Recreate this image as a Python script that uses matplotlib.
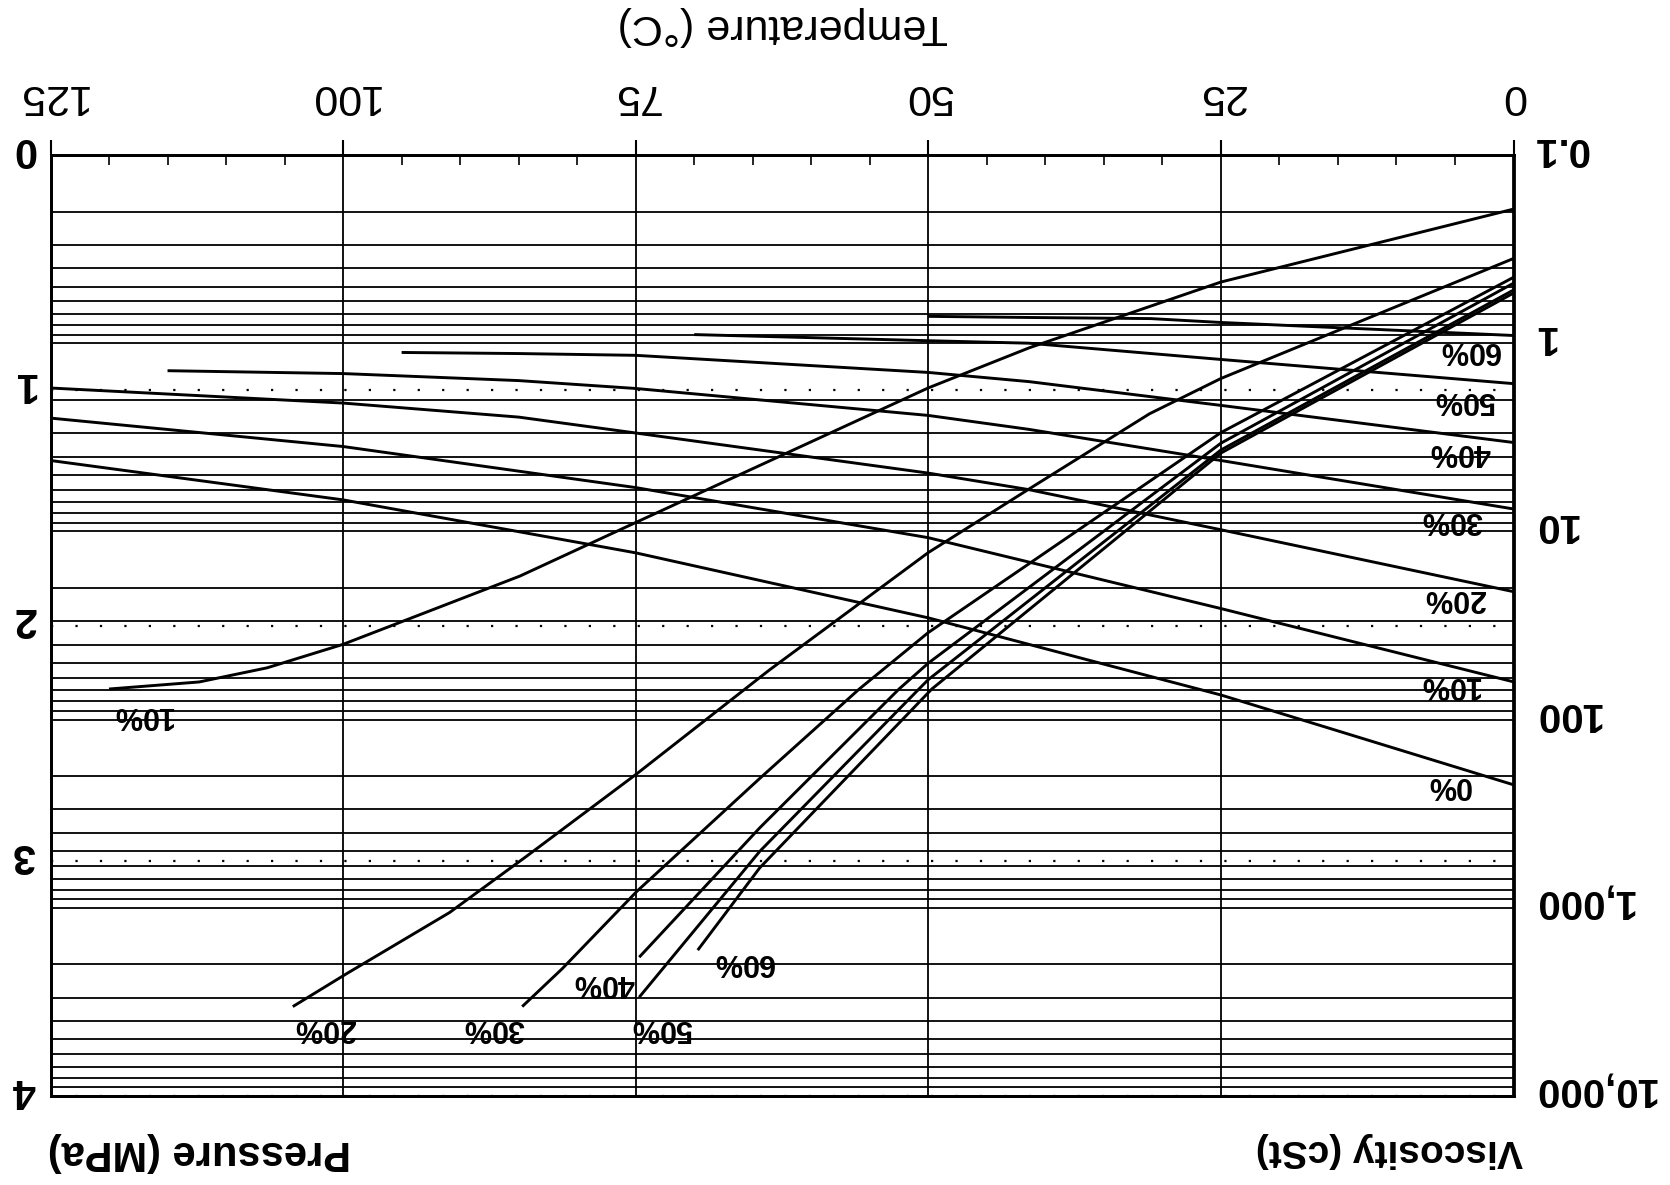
import numpy as np
import matplotlib.pyplot as plt
from matplotlib.ticker import FixedLocator
from matplotlib.transforms import ScaledTranslation

plt.rcParams['font.family'] = ['Liberation Sans', 'DejaVu Sans']
plt.rcParams['ytick.alignment'] = 'center'

# Viscosity curves (cSt) vs temperature, one per concentration
visc_T = {
    "0%": [0, 25, 50, 75, 100, 125],
    "10%": [0, 25, 50, 75, 100, 125],
    "20%": [0, 25, 41.4, 50, 75, 85, 100, 125],
    "30%": [0, 25, 41.4, 50, 75, 85, 100, 115],
    "40%": [0, 25, 41.4, 50, 75, 85, 95],
    "50%": [0, 25, 41.4, 50, 70],
    "60%": [0, 25, 31, 41.4, 50],
}
visc_v = {
    "0%": [222, 74, 28.8, 13.0, 6.8, 4.2],
    "10%": [63, 25.7, 10.8, 5.85, 3.54, 2.5],
    "20%": [20.9, 9.8, 6.0, 4.9, 3.0, 2.47, 2.08, 1.73],
    "30%": [7.6, 4.2, 2.87, 2.42, 1.74, 1.58, 1.45, 1.40],
    "40%": [3.37, 2.14, 1.6, 1.43, 1.16, 1.135, 1.12],
    "50%": [1.64, 1.22, 1.0, 0.97, 0.90],
    "60%": [0.91, 0.776, 0.74, 0.73, 0.72],
}

# Pressure curves (MPa) vs temperature
pres_T = {
    "10%": [0, 25, 41.4, 50, 74.9, 84.9, 100, 106.5, 112.3, 120],
    "20%": [0, 25, 31.1, 41.4, 50, 63.6, 74.9, 84.3, 90.9, 99.7, 104.3],
    "30%": [0, 25, 50, 55.9, 64.4, 74.9, 81.3, 84.7],
    "40%": [0, 25, 50, 52.5, 64.4, 74.7],
    "50%": [0, 25, 50, 50.8, 64.4, 74.7],
    "60%": [0, 25, 49.7, 64.4, 69.7],
}
pres_P = {
    "10%": [0.23, 0.54, 0.82, 0.99, 1.56, 1.79, 2.08, 2.18, 2.24, 2.27],
    "20%": [0.44, 0.95, 1.10, 1.42, 1.69, 2.19, 2.63, 2.98, 3.22, 3.48, 3.62],
    "30%": [0.52, 1.18, 2.03, 2.27, 2.65, 3.13, 3.46, 3.62],
    "40%": [0.545, 1.225, 2.16, 2.27, 2.86, 3.41],
    "50%": [0.574, 1.254, 2.23, 2.27, 2.96, 3.58],
    "60%": [0.587, 1.267, 2.27, 3.03, 3.38],
}

# where the curve labels sit (T, value)
visc_label_at = {
    "60%": (3.8, 1.09), "50%": (4.2, 2.0), "40%": (4.6, 3.78), "30%": (5.3, 8.7),
    "20%": (5.0, 22.6), "10%": (5.5, 65.5), "0%": (5.5, 222),
}
pres_label_at = {
    "10%": (117.1, 2.38), "20%": (101.6, 3.71), "30%": (87.1, 3.71),
    "40%": (77.7, 3.52), "50%": (72.8, 3.71), "60%": (65.8, 3.43),
}

temp_ticks = [0, 25, 50, 75, 100, 125]
visc_ticks = [0.1, 1, 10, 100, 1000, 10000]
visc_labels = ["0.1", "1", "10", "100", "1,000", "10,000"]
pres_ticks = [0, 1, 2, 3, 4]

fig = plt.figure(figsize=(16.7, 11.85), dpi=100)
ax = fig.add_axes([50.5 / 1670, 89 / 1185, 1463 / 1670, 941 / 1185])
ax2 = ax.twinx()

# chart is printed upside down: flip both axes, rotate all text
ax.set_xlim(125, 0)
ax.set_yscale('log')
ax.set_ylim(10000, 0.1)
ax2.set_ylim(4, 0)

ax.xaxis.tick_top()
ax.set_xticks(temp_ticks)
ax.set_xticklabels([str(t) for t in temp_ticks])
ax.xaxis.set_minor_locator(FixedLocator(np.arange(0, 126, 5)))
ax.tick_params(axis='x', which='major', direction='out', length=11, width=1.5,
               pad=17, labelsize=31, labelrotation=180)
ax.tick_params(axis='x', which='minor', direction='in', length=7, width=1.2)

ax.yaxis.tick_right()
ax.set_yticks(visc_ticks)
ax.set_yticklabels(visc_labels)
minors = [m * 10.0 ** e for e in range(-1, 4) for m in range(2, 10)]
ax.yaxis.set_minor_locator(FixedLocator(minors))
ax.tick_params(axis='y', which='both', length=0, pad=14, labelsize=29,
               labelrotation=180)

ax2.yaxis.tick_left()
ax2.set_yticks(pres_ticks)
ax2.set_yticklabels([str(p) for p in pres_ticks])
ax2.tick_params(axis='y', length=0, pad=11, labelsize=30, labelrotation=180)

# upside-down labels sit a little high of their ticks
lift = ScaledTranslation(0, 6 / 100, fig.dpi_scale_trans)
for lab in ax.get_yticklabels() + ax2.get_yticklabels():
    lab.set_fontweight('bold')
    lab.set_transform(lab.get_transform() + lift)

ax.grid(axis='y', which='both', color='black', lw=1.3)
ax.grid(axis='x', which='major', color='black', lw=1.3)
ax2.grid(axis='y', color='black', lw=1.6, linestyle=(0, (1, 10)))

for sp in list(ax.spines.values()) + list(ax2.spines.values()):
    sp.set_linewidth(2)

for k in visc_T:
    ax.plot(visc_T[k], visc_v[k], color='black', lw=2.1, solid_capstyle='butt')
    tx, ty = visc_label_at[k]
    ax.text(tx, ty, k, rotation=180, ha='center', va='center',
            fontsize=22, fontweight='bold')

for k in pres_T:
    ax2.plot(pres_T[k], pres_P[k], color='black', lw=2.1, solid_capstyle='butt')
    tx, ty = pres_label_at[k]
    ax2.text(tx, ty, k, rotation=180, ha='center', va='center',
             fontsize=22, fontweight='bold')

fig.text(783 / 1670, 1 - 26 / 1185, "Temperature (°C)", rotation=180,
         ha='center', va='center', fontsize=31)
fig.text(1523 / 1670, 1 - 1150 / 1185, "Viscosity (cSt)", rotation=180,
         ha='right', va='center', fontsize=28, fontweight='bold')
fig.text(48 / 1670, 1 - 1152 / 1185, "Pressure (MPa)", rotation=180,
         ha='left', va='center', fontsize=30, fontweight='bold')

fig.savefig("out.png", dpi=100)
